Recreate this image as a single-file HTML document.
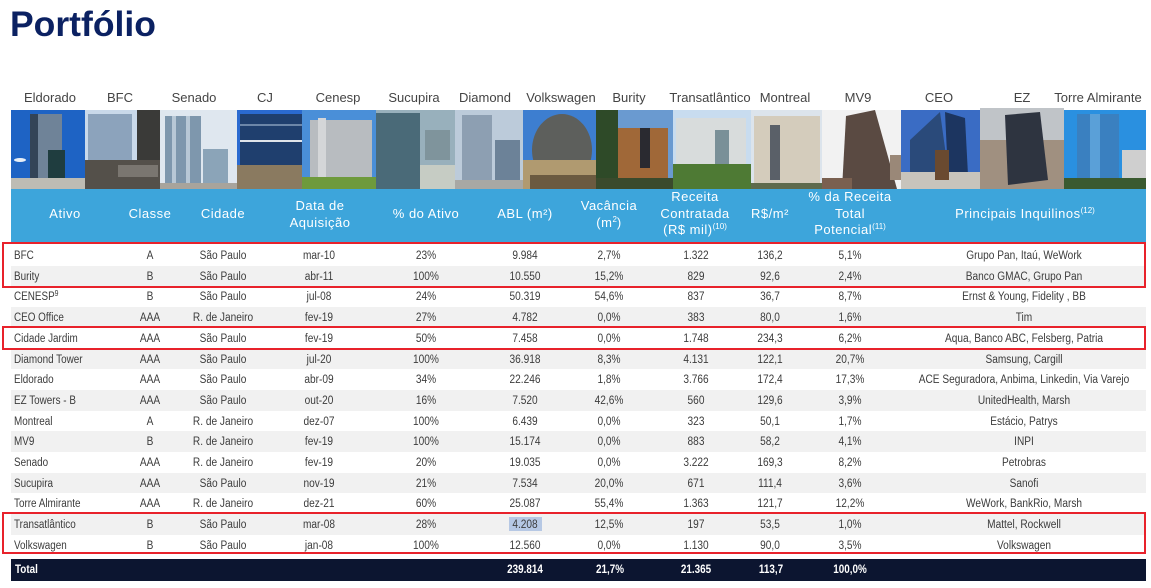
<!DOCTYPE html>
<html><head><meta charset="utf-8"><style>
*{margin:0;padding:0;box-sizing:border-box}
body{width:1151px;height:588px;background:#fff;position:relative;overflow:hidden;font-family:"Liberation Sans",Arial,sans-serif}
.title{position:absolute;left:10px;top:4px;font-size:35.5px;font-weight:bold;color:#0b2162}
.pl{position:absolute;top:90px;width:160px;margin-left:-80px;text-align:center;font-size:13px;color:#444;white-space:nowrap}
.hdr{position:absolute;left:11px;top:189px;width:1135px;height:54px;background:#3da5db}
.h{position:absolute;width:220px;margin-left:-110px;text-align:center;color:#fff;font-size:13px;letter-spacing:0.5px;line-height:16.5px;white-space:nowrap}
.h sup{font-size:8px;letter-spacing:0;vertical-align:5px;line-height:0}
.band{position:absolute;left:11px;width:1135px;height:20.7px;background:#f1f1f1}
.r{position:absolute;left:0;width:1151px;height:21px}
.c{position:absolute;top:1px;width:300px;margin-left:-150px;text-align:center;font-size:11.5px;color:#3c3c3c;white-space:nowrap;transform:scaleX(.88);line-height:20.7px;height:20.7px}
.l{position:absolute;top:1px;left:14px;font-size:11.5px;color:#3c3c3c;white-space:nowrap;transform:scaleX(.86);transform-origin:left center;line-height:20.7px;height:20.7px}
.l sup{font-size:8px;vertical-align:4px;line-height:0}
.rl{position:absolute;background:#e8222b}
.tot{position:absolute;left:11px;top:559px;width:1135px;height:22px;background:#0c1530}
.t{position:absolute;top:559px;width:200px;margin-left:-100px;text-align:center;font-size:11.5px;font-weight:bold;color:#fff;line-height:22px;transform:scaleX(.86);white-space:nowrap}
.sel{position:absolute;left:509px;top:517px;width:33px;height:14px;background:#b6c8e4}
</style></head><body>
<div class="title">Portfólio</div>

<div class="pl" style="left:50px">Eldorado</div>
<div class="pl" style="left:120px">BFC</div>
<div class="pl" style="left:194px">Senado</div>
<div class="pl" style="left:265px">CJ</div>
<div class="pl" style="left:338px">Cenesp</div>
<div class="pl" style="left:414px">Sucupira</div>
<div class="pl" style="left:485px">Diamond</div>
<div class="pl" style="left:561px">Volkswagen</div>
<div class="pl" style="left:629px">Burity</div>
<div class="pl" style="left:710px">Transatlântico</div>
<div class="pl" style="left:785px">Montreal</div>
<div class="pl" style="left:858px">MV9</div>
<div class="pl" style="left:939px">CEO</div>
<div class="pl" style="left:1022px">EZ</div>
<div class="pl" style="left:1098px">Torre Almirante</div>

<svg style="position:absolute;left:0;top:0" width="1151" height="200">
<rect x="11" y="110" width="74" height="79" fill="#1e63c4"/>
<ellipse cx="20" cy="160" rx="6" ry="2" fill="#e8eef6"/>
<rect x="30" y="114" width="32" height="66" fill="#6f8398"/>
<rect x="30" y="114" width="8" height="66" fill="#334457"/>
<rect x="48" y="150" width="17" height="32" fill="#1f3d3f"/>
<rect x="11" y="178" width="74" height="11" fill="#bdbcb4"/>
<rect x="85" y="110" width="75" height="79" fill="#c9d9ea"/>
<rect x="88" y="114" width="44" height="52" fill="#8ca3bc"/>
<rect x="137" y="110" width="23" height="62" fill="#3a3a38"/>
<rect x="85" y="160" width="75" height="29" fill="#54504a"/>
<rect x="118" y="165" width="40" height="12" fill="#7a7670"/>
<rect x="160" y="110" width="77" height="79" fill="#dfe7ef"/>
<rect x="165" y="116" width="36" height="69" fill="#7e97ad"/>
<rect x="172" y="116" width="4" height="69" fill="#b8c8d6"/>
<rect x="186" y="116" width="4" height="69" fill="#b8c8d6"/>
<rect x="203" y="149" width="25" height="36" fill="#8ba4b8"/>
<rect x="160" y="183" width="77" height="6" fill="#a8a49c"/>
<rect x="237" y="110" width="65" height="79" fill="#2a6ad0"/>
<rect x="240" y="114" width="62" height="54" fill="#1f3f6e"/>
<rect x="240" y="124" width="62" height="2" fill="#6c86a8"/>
<rect x="240" y="140" width="62" height="2" fill="#dfe4ea"/>
<rect x="237" y="165" width="65" height="24" fill="#8a7a60"/>
<rect x="302" y="110" width="74" height="79" fill="#4a8fd8"/>
<ellipse cx="325" cy="125" rx="12" ry="4" fill="#d8e6f4"/>
<rect x="310" y="120" width="62" height="60" fill="#b8bcc0"/>
<rect x="318" y="118" width="8" height="62" fill="#d4d6d8"/>
<rect x="302" y="177" width="74" height="12" fill="#6e9a3c"/>
<rect x="376" y="110" width="79" height="79" fill="#98b0bc"/>
<rect x="376" y="113" width="44" height="76" fill="#4a6a78"/>
<rect x="425" y="130" width="25" height="30" fill="#7f949c"/>
<rect x="420" y="165" width="35" height="24" fill="#c6ccc4"/>
<rect x="455" y="110" width="68" height="79" fill="#bccbda"/>
<rect x="462" y="115" width="30" height="70" fill="#8d9fb2"/>
<rect x="495" y="140" width="25" height="45" fill="#6c8298"/>
<rect x="455" y="180" width="68" height="9" fill="#a8a8a4"/>
<rect x="523" y="110" width="73" height="79" fill="#3d7ed0"/>
<ellipse cx="562" cy="150" rx="30" ry="36" fill="#5d5f5c"/>
<rect x="523" y="160" width="73" height="29" fill="#b09a70"/>
<rect x="530" y="175" width="66" height="14" fill="#6b5a40"/>
<rect x="596" y="110" width="77" height="79" fill="#6a9ad0"/>
<rect x="596" y="110" width="22" height="79" fill="#2e4a28"/>
<rect x="618" y="128" width="50" height="61" fill="#a06838"/>
<rect x="640" y="128" width="10" height="40" fill="#2a2a30"/>
<rect x="596" y="178" width="77" height="11" fill="#3a4a2c"/>
<rect x="673" y="110" width="78" height="79" fill="#c8dcef"/>
<rect x="676" y="118" width="70" height="52" fill="#d8dcdc"/>
<rect x="715" y="130" width="14" height="40" fill="#7a9098"/>
<rect x="673" y="164" width="78" height="25" fill="#4e7a34"/>
<rect x="751" y="110" width="71" height="79" fill="#dce4ec"/>
<rect x="754" y="116" width="66" height="70" fill="#d4ccbc"/>
<rect x="770" y="125" width="10" height="55" fill="#5a6068"/>
<rect x="751" y="183" width="71" height="6" fill="#5e6a4c"/>
<rect x="822" y="110" width="79" height="79" fill="#f2f2f2"/>
<polygon points="846,116 875,110 897,189 842,189" fill="#5a4a42"/>
<rect x="822" y="178" width="30" height="11" fill="#7a6050"/>
<rect x="890" y="155" width="11" height="25" fill="#9a8878"/>
<rect x="901" y="110" width="79" height="79" fill="#3a6cc4"/>
<polygon points="910,140 940,112 948,170 910,175" fill="#2a4a7a"/>
<polygon points="945,112 965,118 968,175 948,175" fill="#1c3560"/>
<rect x="901" y="172" width="79" height="17" fill="#c8c4bc"/>
<rect x="935" y="150" width="14" height="30" fill="#6a4a30"/>
<rect x="980" y="108" width="84" height="81" fill="#c0c4c8"/>
<rect x="980" y="140" width="84" height="49" fill="#a09080"/>
<polygon points="1005,115 1040,112 1048,180 1008,185" fill="#2e3440"/>
<rect x="1064" y="110" width="82" height="79" fill="#2a90e0"/>
<rect x="1077" y="114" width="42" height="70" fill="#3a80c0"/>
<rect x="1090" y="114" width="10" height="70" fill="#5aa0d8"/>
<rect x="1122" y="150" width="24" height="39" fill="#cfcfcf"/>
<rect x="1064" y="178" width="82" height="11" fill="#3a5a30"/>
</svg>

<div class="hdr"></div>
<div class="h" style="left:65px;top:206px">Ativo</div>
<div class="h" style="left:150px;top:206px">Classe</div>
<div class="h" style="left:223px;top:206px">Cidade</div>
<div class="h" style="left:320px;top:198px">Data de<br>Aquisição</div>
<div class="h" style="left:426px;top:206px">% do Ativo</div>
<div class="h" style="left:525px;top:206px">ABL (m²)</div>
<div class="h" style="left:609px;top:198px">Vacância<br>(m<sup>2</sup>)</div>
<div class="h" style="left:695px;top:189px">Receita<br>Contratada<br>(R$ mil)<sup>(10)</sup></div>
<div class="h" style="left:770px;top:206px">R$/m²</div>
<div class="h" style="left:850px;top:189px">% da Receita<br>Total<br>Potencial<sup>(11)</sup></div>
<div class="h" style="left:1025px;top:206px">Principais Inquilinos<sup>(12)</sup></div>

<div class="band" style="top:265.7px"></div>
<div class="band" style="top:307.1px"></div>
<div class="band" style="top:348.5px"></div>
<div class="band" style="top:389.9px"></div>
<div class="band" style="top:431.3px"></div>
<div class="band" style="top:472.7px"></div>
<div class="band" style="top:514.1px"></div>
<div class="sel"></div>

<div class="r" style="top:245px">
<div class="l">BFC</div><div class="c" style="left:150px">A</div><div class="c" style="left:223px">São Paulo</div><div class="c" style="left:319px">mar-10</div><div class="c" style="left:426px">23%</div><div class="c" style="left:525px">9.984</div><div class="c" style="left:609px">2,7%</div><div class="c" style="left:696px">1.322</div><div class="c" style="left:770px">136,2</div><div class="c" style="left:850px">5,1%</div><div class="c" style="left:1024px">Grupo Pan, Itaú, WeWork</div></div>
<div class="r" style="top:265.7px">
<div class="l">Burity</div><div class="c" style="left:150px">B</div><div class="c" style="left:223px">São Paulo</div><div class="c" style="left:319px">abr-11</div><div class="c" style="left:426px">100%</div><div class="c" style="left:525px">10.550</div><div class="c" style="left:609px">15,2%</div><div class="c" style="left:696px">829</div><div class="c" style="left:770px">92,6</div><div class="c" style="left:850px">2,4%</div><div class="c" style="left:1024px">Banco GMAC, Grupo Pan</div></div>
<div class="r" style="top:286.4px">
<div class="l">CENESP<sup>9</sup></div><div class="c" style="left:150px">B</div><div class="c" style="left:223px">São Paulo</div><div class="c" style="left:319px">jul-08</div><div class="c" style="left:426px">24%</div><div class="c" style="left:525px">50.319</div><div class="c" style="left:609px">54,6%</div><div class="c" style="left:696px">837</div><div class="c" style="left:770px">36,7</div><div class="c" style="left:850px">8,7%</div><div class="c" style="left:1024px">Ernst &amp; Young, Fidelity , BB</div></div>
<div class="r" style="top:307.1px">
<div class="l">CEO Office</div><div class="c" style="left:150px">AAA</div><div class="c" style="left:223px">R. de Janeiro</div><div class="c" style="left:319px">fev-19</div><div class="c" style="left:426px">27%</div><div class="c" style="left:525px">4.782</div><div class="c" style="left:609px">0,0%</div><div class="c" style="left:696px">383</div><div class="c" style="left:770px">80,0</div><div class="c" style="left:850px">1,6%</div><div class="c" style="left:1024px">Tim</div></div>
<div class="r" style="top:327.8px">
<div class="l">Cidade Jardim</div><div class="c" style="left:150px">AAA</div><div class="c" style="left:223px">São Paulo</div><div class="c" style="left:319px">fev-19</div><div class="c" style="left:426px">50%</div><div class="c" style="left:525px">7.458</div><div class="c" style="left:609px">0,0%</div><div class="c" style="left:696px">1.748</div><div class="c" style="left:770px">234,3</div><div class="c" style="left:850px">6,2%</div><div class="c" style="left:1024px">Aqua, Banco ABC, Felsberg, Patria</div></div>
<div class="r" style="top:348.5px">
<div class="l">Diamond Tower</div><div class="c" style="left:150px">AAA</div><div class="c" style="left:223px">São Paulo</div><div class="c" style="left:319px">jul-20</div><div class="c" style="left:426px">100%</div><div class="c" style="left:525px">36.918</div><div class="c" style="left:609px">8,3%</div><div class="c" style="left:696px">4.131</div><div class="c" style="left:770px">122,1</div><div class="c" style="left:850px">20,7%</div><div class="c" style="left:1024px">Samsung, Cargill</div></div>
<div class="r" style="top:369.2px">
<div class="l">Eldorado</div><div class="c" style="left:150px">AAA</div><div class="c" style="left:223px">São Paulo</div><div class="c" style="left:319px">abr-09</div><div class="c" style="left:426px">34%</div><div class="c" style="left:525px">22.246</div><div class="c" style="left:609px">1,8%</div><div class="c" style="left:696px">3.766</div><div class="c" style="left:770px">172,4</div><div class="c" style="left:850px">17,3%</div><div class="c" style="left:1024px">ACE Seguradora, Anbima, Linkedin, Via Varejo</div></div>
<div class="r" style="top:389.9px">
<div class="l">EZ Towers - B</div><div class="c" style="left:150px">AAA</div><div class="c" style="left:223px">São Paulo</div><div class="c" style="left:319px">out-20</div><div class="c" style="left:426px">16%</div><div class="c" style="left:525px">7.520</div><div class="c" style="left:609px">42,6%</div><div class="c" style="left:696px">560</div><div class="c" style="left:770px">129,6</div><div class="c" style="left:850px">3,9%</div><div class="c" style="left:1024px">UnitedHealth, Marsh</div></div>
<div class="r" style="top:410.6px">
<div class="l">Montreal</div><div class="c" style="left:150px">A</div><div class="c" style="left:223px">R. de Janeiro</div><div class="c" style="left:319px">dez-07</div><div class="c" style="left:426px">100%</div><div class="c" style="left:525px">6.439</div><div class="c" style="left:609px">0,0%</div><div class="c" style="left:696px">323</div><div class="c" style="left:770px">50,1</div><div class="c" style="left:850px">1,7%</div><div class="c" style="left:1024px">Estácio, Patrys</div></div>
<div class="r" style="top:431.3px">
<div class="l">MV9</div><div class="c" style="left:150px">B</div><div class="c" style="left:223px">R. de Janeiro</div><div class="c" style="left:319px">fev-19</div><div class="c" style="left:426px">100%</div><div class="c" style="left:525px">15.174</div><div class="c" style="left:609px">0,0%</div><div class="c" style="left:696px">883</div><div class="c" style="left:770px">58,2</div><div class="c" style="left:850px">4,1%</div><div class="c" style="left:1024px">INPI</div></div>
<div class="r" style="top:452px">
<div class="l">Senado</div><div class="c" style="left:150px">AAA</div><div class="c" style="left:223px">R. de Janeiro</div><div class="c" style="left:319px">fev-19</div><div class="c" style="left:426px">20%</div><div class="c" style="left:525px">19.035</div><div class="c" style="left:609px">0,0%</div><div class="c" style="left:696px">3.222</div><div class="c" style="left:770px">169,3</div><div class="c" style="left:850px">8,2%</div><div class="c" style="left:1024px">Petrobras</div></div>
<div class="r" style="top:472.7px">
<div class="l">Sucupira</div><div class="c" style="left:150px">AAA</div><div class="c" style="left:223px">São Paulo</div><div class="c" style="left:319px">nov-19</div><div class="c" style="left:426px">21%</div><div class="c" style="left:525px">7.534</div><div class="c" style="left:609px">20,0%</div><div class="c" style="left:696px">671</div><div class="c" style="left:770px">111,4</div><div class="c" style="left:850px">3,6%</div><div class="c" style="left:1024px">Sanofi</div></div>
<div class="r" style="top:493.4px">
<div class="l">Torre Almirante</div><div class="c" style="left:150px">AAA</div><div class="c" style="left:223px">R. de Janeiro</div><div class="c" style="left:319px">dez-21</div><div class="c" style="left:426px">60%</div><div class="c" style="left:525px">25.087</div><div class="c" style="left:609px">55,4%</div><div class="c" style="left:696px">1.363</div><div class="c" style="left:770px">121,7</div><div class="c" style="left:850px">12,2%</div><div class="c" style="left:1024px">WeWork, BankRio, Marsh</div></div>
<div class="r" style="top:514.1px">
<div class="l">Transatlântico</div><div class="c" style="left:150px">B</div><div class="c" style="left:223px">São Paulo</div><div class="c" style="left:319px">mar-08</div><div class="c" style="left:426px">28%</div><div class="c" style="left:525px">4.208</div><div class="c" style="left:609px">12,5%</div><div class="c" style="left:696px">197</div><div class="c" style="left:770px">53,5</div><div class="c" style="left:850px">1,0%</div><div class="c" style="left:1024px">Mattel, Rockwell</div></div>
<div class="r" style="top:534.8px">
<div class="l">Volkswagen</div><div class="c" style="left:150px">B</div><div class="c" style="left:223px">São Paulo</div><div class="c" style="left:319px">jan-08</div><div class="c" style="left:426px">100%</div><div class="c" style="left:525px">12.560</div><div class="c" style="left:609px">0,0%</div><div class="c" style="left:696px">1.130</div><div class="c" style="left:770px">90,0</div><div class="c" style="left:850px">3,5%</div><div class="c" style="left:1024px">Volkswagen</div></div>

<!-- red boxes as solid 2px bars on even pixel boundaries -->
<div class="rl" style="left:2px;top:242px;width:1144px;height:2px"></div>
<div class="rl" style="left:2px;top:286px;width:1144px;height:2px"></div>
<div class="rl" style="left:2px;top:242px;width:2px;height:46px"></div>
<div class="rl" style="left:1144px;top:242px;width:2px;height:46px"></div>

<div class="rl" style="left:2px;top:326px;width:1144px;height:2px"></div>
<div class="rl" style="left:2px;top:348px;width:1144px;height:2px"></div>
<div class="rl" style="left:2px;top:326px;width:2px;height:24px"></div>
<div class="rl" style="left:1144px;top:326px;width:2px;height:24px"></div>

<div class="rl" style="left:2px;top:512px;width:1144px;height:2px"></div>
<div class="rl" style="left:2px;top:552px;width:1144px;height:2px"></div>
<div class="rl" style="left:2px;top:512px;width:2px;height:42px"></div>
<div class="rl" style="left:1144px;top:512px;width:2px;height:42px"></div>

<div class="tot"></div>
<div class="t" style="left:15px;margin-left:0;width:auto;text-align:left;transform-origin:left center">Total</div>
<div class="t" style="left:525px">239.814</div>
<div class="t" style="left:610px">21,7%</div>
<div class="t" style="left:696px">21.365</div>
<div class="t" style="left:771px">113,7</div>
<div class="t" style="left:850px">100,0%</div>
</body></html>
